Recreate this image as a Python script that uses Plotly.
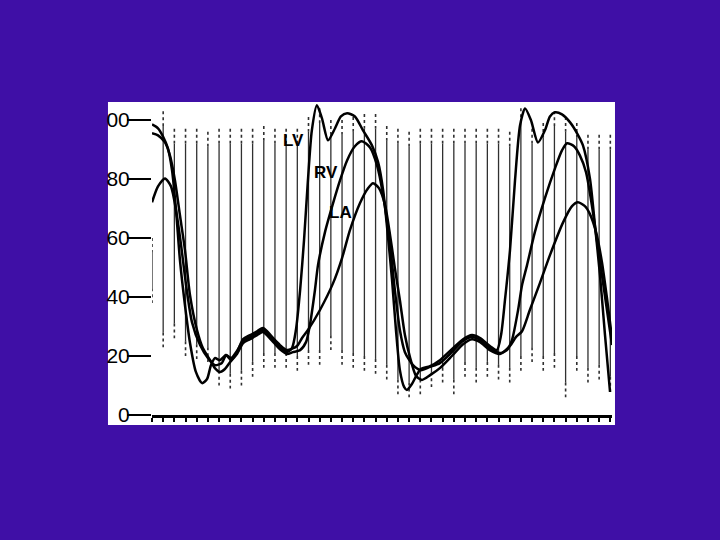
import plotly.graph_objects as go

# time in ms, pressure in mmHg
lv_t = [0, 21.5, 39, 57, 71.6, 86, 100, 118, 136, 157, 179, 197, 211, 225, 243, 265, 283, 304,
        326, 351, 376, 397, 415, 437, 458, 483, 501, 515, 530, 544, 558, 572, 590, 608, 630, 655,
        676, 698, 726, 755, 787, 809, 827, 844, 859, 873, 887, 902, 912, 930, 945, 962, 995, 1030,
        1073, 1113, 1145, 1174, 1209, 1234, 1249, 1263, 1281, 1299, 1317, 1335, 1356, 1381, 1406,
        1424, 1442, 1467, 1496, 1521, 1542, 1567, 1585, 1603, 1621, 1639]
lv_p = [98.5, 97.2, 94.5, 90.4, 83.0, 69.4, 52.5, 37.2, 24.4, 14.6, 10.8, 12.2, 16.9, 19.3, 18.6,
        20.3, 19.3, 21.7, 25.1, 26.4, 27.8, 28.8, 27.4, 25.1, 23.0, 21.3, 22.7, 28.8, 42.3, 59.3,
        79.6, 96.5, 105.0, 100.6, 93.1, 97.2, 101.2, 102.3, 101.2, 96.5, 91.4, 85.7, 76.2, 60.9,
        45.7, 28.8, 15.2, 9.5, 8.5, 10.5, 13.2, 15.6, 16.6, 18.6, 22.3, 25.7, 27.1, 26.1, 23.4,
        22.0, 27.1, 38.9, 55.9, 79.6, 98.2, 103.9, 99.9, 92.4, 96.5, 101.2, 102.6, 101.9, 99.2,
        95.5, 91.4, 80.2, 64.3, 47.4, 27.1, 7.8]

rv_t = [0, 21.5, 46.5, 64, 82, 100, 118, 136, 161, 182, 208, 225, 243, 261, 279, 304, 326, 351,
        376, 397, 415, 437, 458, 483, 504, 530, 551, 565, 583, 594, 619, 648, 673, 698, 726, 751,
        780, 805, 827, 852, 869, 887, 905, 934, 962, 995, 1030, 1073, 1113, 1145, 1174, 1209,
        1245, 1270, 1288, 1310, 1324, 1342, 1370, 1406, 1442, 1467, 1485, 1510, 1531, 1553, 1574,
        1592, 1610, 1628, 1646]
rv_p = [95.5, 94.8, 92.4, 88.0, 79.6, 67.7, 55.9, 40.6, 28.8, 22.7, 18.6, 15.9, 14.6, 15.6, 17.9,
        20.7, 24.4, 25.7, 27.1, 28.1, 26.7, 24.4, 22.3, 20.7, 21.3, 22.0, 24.7, 30.5, 42.3, 50.8,
        62.0, 71.8, 79.6, 86.3, 91.1, 92.8, 90.7, 84.7, 74.5, 57.6, 42.3, 28.8, 21.3, 16.9, 15.2,
        16.3, 17.6, 21.3, 25.1, 26.4, 25.4, 22.7, 21.0, 22.0, 25.4, 35.6, 44.0, 50.8, 62.0, 73.5,
        83.6, 89.7, 92.1, 91.1, 88.0, 82.3, 71.1, 59.3, 47.4, 35.6, 23.7]

la_t = [0, 21.5, 46.5, 68, 86, 104, 122, 143, 172, 200, 225, 250, 265, 283, 304, 326, 351, 376,
        397, 415, 437, 458, 483, 519, 537, 558, 601, 648, 680, 708, 744, 773, 791, 812, 834, 852,
        869, 887, 905, 923, 945, 966, 995, 1030, 1073, 1113, 1145, 1174, 1209, 1245, 1281, 1302,
        1324, 1352, 1388, 1424, 1471, 1503, 1524, 1549, 1567, 1589, 1610, 1628, 1646]
la_p = [72.1, 77.5, 80.2, 77.5, 69.4, 57.6, 44.0, 31.5, 23.7, 19.3, 16.9, 17.6, 20.3, 18.6, 21.3,
        25.7, 27.1, 28.4, 29.5, 28.1, 25.7, 23.7, 22.0, 23.4, 26.1, 28.8, 35.6, 44.7, 53.2, 62.6,
        71.8, 76.9, 78.6, 76.9, 71.1, 60.9, 49.8, 38.9, 27.1, 19.6, 13.2, 11.9, 13.5, 15.9, 20.0,
        24.0, 25.7, 24.7, 22.0, 20.7, 23.4, 26.4, 28.4, 35.6, 44.7, 54.2, 65.3, 70.8, 72.1, 70.8,
        68.1, 62.0, 51.8, 39.6, 26.1]

# 40 ms timing marks: upper and lower ends of each mark (mmHg)
mark_t = [40 * k for k in range(42)]
mark_top = [60, 103, 97, 97, 97, 96, 97, 97, 97, 97, 98, 97, 97, 97, 101, 104, 100, 100, 101, 102,
            102, 98, 97, 96, 97, 97, 97, 97, 97, 97, 97, 97, 96, 104, 97, 99, 103, 101, 99, 95, 95, 95]
mark_bottom = [38, 23, 26, 20, 19, 18, 10, 9, 10, 13, 16, 16, 16, 15, 17, 17, 22, 17, 16, 15,
               14, 12, 7, 6, 7, 9.5, 11, 7, 13, 11, 13, 12, 11, 15, 18, 15, 16, 6, 15, 11, 12, 8]

y_ticks = [0, 20, 40, 60, 80, 100]
y_labels = ["0", "20", "40", "60", "80", "00"]

PURPLE = "#3f0fa6"
INK = "black"
MARK = "rgba(25,25,25,0.9)"

fig = go.Figure()

# timing marks: solid middle part, dotted ends
solid_x, solid_y, dot_x, dot_y = [], [], [], []
for t, top, bot in zip(mark_t, mark_top, mark_bottom):
    solid_x += [t, t, None]
    solid_y += [top - 5, bot + 5, None]
    dot_x += [t, t, None, t, t, None]
    dot_y += [top, top - 5, None, bot + 5, bot, None]

fig.add_trace(go.Scatter(x=solid_x, y=solid_y, mode="lines",
                         line=dict(color=MARK, width=1.3), hoverinfo="skip"))
fig.add_trace(go.Scatter(x=dot_x, y=dot_y, mode="lines",
                         line=dict(color=MARK, width=1.6, dash="dot"), hoverinfo="skip"))

for name, t, p in [("LV", lv_t, lv_p), ("RV", rv_t, rv_p), ("LA", la_t, la_p)]:
    fig.add_trace(go.Scatter(x=t, y=p, mode="lines", name=name,
                             line=dict(color=INK, width=2.5, shape="spline", smoothing=0.7)))

# curve labels
for text, t, p in [("LV", 508, 93.1), ("RV", 623, 82.3), ("LA", 676, 68.7)]:
    fig.add_annotation(x=t, y=p, text="<b>%s</b>" % text, showarrow=False,
                       font=dict(family="Liberation Sans, Arial", size=17, color=INK))

# white paper of the scanned trace
fig.add_shape(type="rect", xref="paper", yref="paper", x0=-0.0957, x1=1.0065, y0=-0.032, y1=1.0,
              fillcolor="white", line=dict(width=0), layer="below")

fig.update_layout(
    width=720, height=540,
    margin=dict(l=152, r=108, t=102, b=125),
    paper_bgcolor=PURPLE,
    plot_bgcolor="white",
    showlegend=False,
    xaxis=dict(range=[0, 1646], showgrid=False, zeroline=False, showticklabels=False,
               showline=True, linecolor=INK, linewidth=2.5,
               ticks="outside", tick0=0, dtick=40, ticklen=4, tickwidth=1.5, tickcolor=INK),
    yaxis=dict(range=[0, 106.1], showgrid=False, zeroline=False, showline=False,
               tickvals=y_ticks, ticktext=y_labels,
               ticks="outside", ticklen=24, tickwidth=2, tickcolor=INK, ticklabelstandoff=-7,
               tickfont=dict(family="Liberation Sans, Arial", size=21, color=INK)),
)

# drop the page's default body margin so the figure fills the window
fig.write_html("out.html", config={"displayModeBar": False},
               post_script="document.body.style.margin='0';")
